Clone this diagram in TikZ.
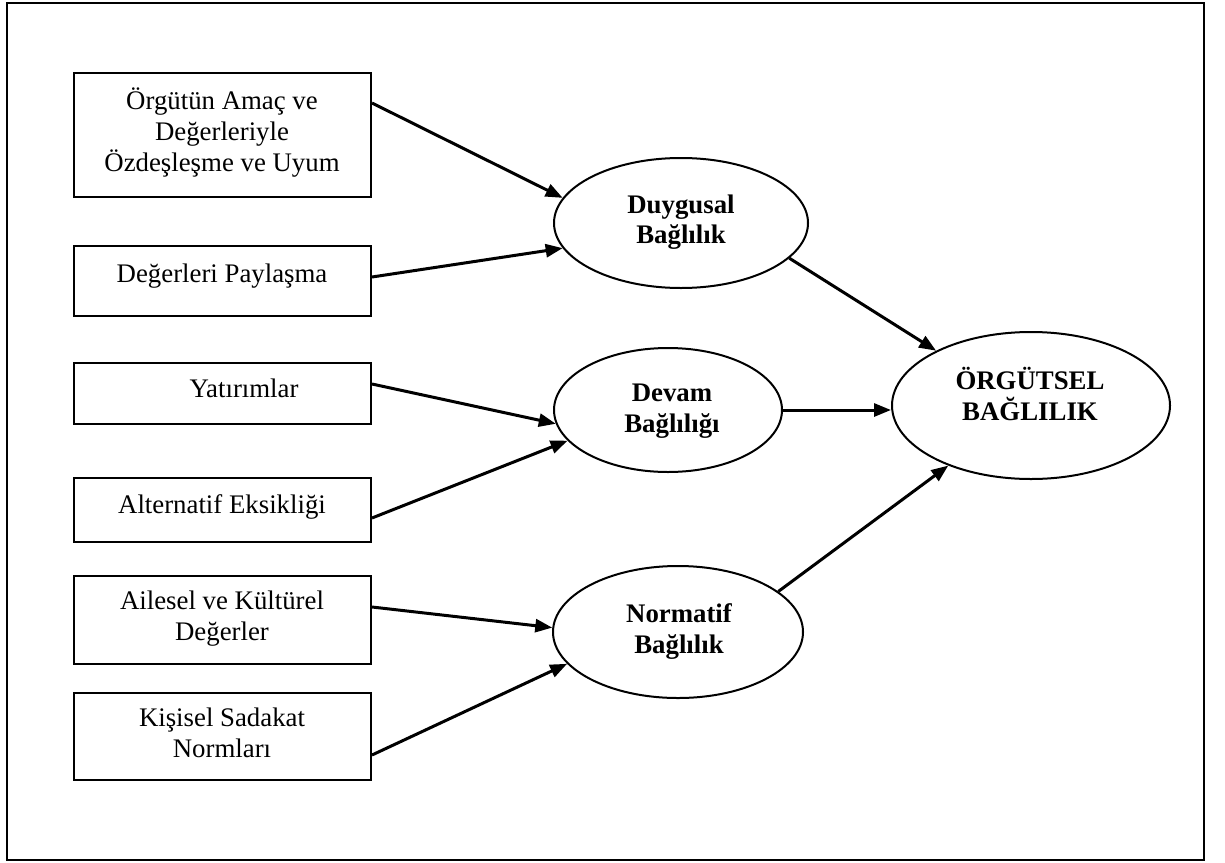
\documentclass[tikz,border=0pt]{standalone}
\usepackage{fontspec}
\setmainfont{Liberation Serif}
\usetikzlibrary{arrows.meta,shapes.geometric,calc}
\begin{document}
\begin{tikzpicture}[x=1pt,y=-1pt,
  box/.style={draw,line width=2pt,rectangle,minimum width=297pt,inner sep=0pt},
  oval/.style={draw,line width=2pt,ellipse,inner sep=0pt},
  txt/.style={font=\fontsize{26.8}{31}\selectfont,align=center,inner sep=0pt},
  btxt/.style={font=\fontsize{26.8}{30.5}\selectfont\bfseries,align=center,inner sep=0pt},
  arr/.style={line width=3pt,-{Triangle[length=17pt,width=13pt]}}]
\useasboundingbox (0,0) rectangle (1225,862);
\node[draw,line width=2pt,rectangle,inner sep=0pt,minimum width=1197pt,minimum height=857pt] (frame) at (605.5,431.5) {};
% boxes
\node[box,minimum height=124pt] (b1) at (222.5,135) {};
\node[box,minimum height=70pt] (b2) at (222.5,281) {};
\node[box,minimum height=61pt] (b3) at (222.5,393.5) {};
\node[box,minimum height=64pt] (b4) at (222.5,510) {};
\node[box,minimum height=88pt] (b5) at (222.5,620) {};
\node[box,minimum height=87pt] (b6) at (222.5,736.5) {};
\node[txt] (t1) at (222,133) {Örgütün Amaç ve\\Değerleriyle\\Özdeşleşme ve Uyum};
\node[txt] (t2) at (222,276) {Değerleri Paylaşma};
\node[txt] (t3) at (244,388) {Yatırımlar};
\node[txt] (t4) at (222,507) {Alternatif Eksikliği};
\node[txt] (t5) at (222,619) {Ailesel ve Kültürel\\Değerler};
\node[txt] (t6) at (222,733) {Kişisel Sadakat\\Normları};
% ellipses
\node[oval,minimum width=254pt,minimum height=130pt] (e1) at (681,223) {};
\node[oval,minimum width=228pt,minimum height=124pt] (e2) at (668,410) {};
\node[oval,minimum width=250pt,minimum height=132pt] (e3) at (678,632) {};
\node[oval,minimum width=278pt,minimum height=147pt] (e4) at (1031,405.5) {};
\node[btxt] (l1) at (681,222) {Duygusal\\Bağlılık};
\node[btxt] (l2) at (672,411) {Devam\\Bağlılığı};
\node[btxt] (l3) at (679,631.5) {Normatif\\Bağlılık};
\node[btxt] (l4) at (1030,394) {ÖRGÜTSEL\\BAĞLILIK};
% arrows
\draw[arr] ([yshift=32pt]b1.east) -- (e1.168);
\draw[arr] ([yshift=4pt]b2.east) -- (e1.192);
\draw[arr] ([yshift=9.5pt]b3.east) -- (e2.187);
\draw[arr] ([yshift=-8pt]b4.east) -- (e2.197);
\draw[arr] ([yshift=13pt]b5.east) -- (e3.178);
\draw[arr] ([yshift=-18.5pt]b6.east) -- (e3.196);
\draw[arr] (e1.-18) -- (e4.150);
\draw[arr] (e2.east) -- (e2.east -| e4.west);
\draw[arr] (e3.22) -- (e4.216);
\end{tikzpicture}
\end{document}
